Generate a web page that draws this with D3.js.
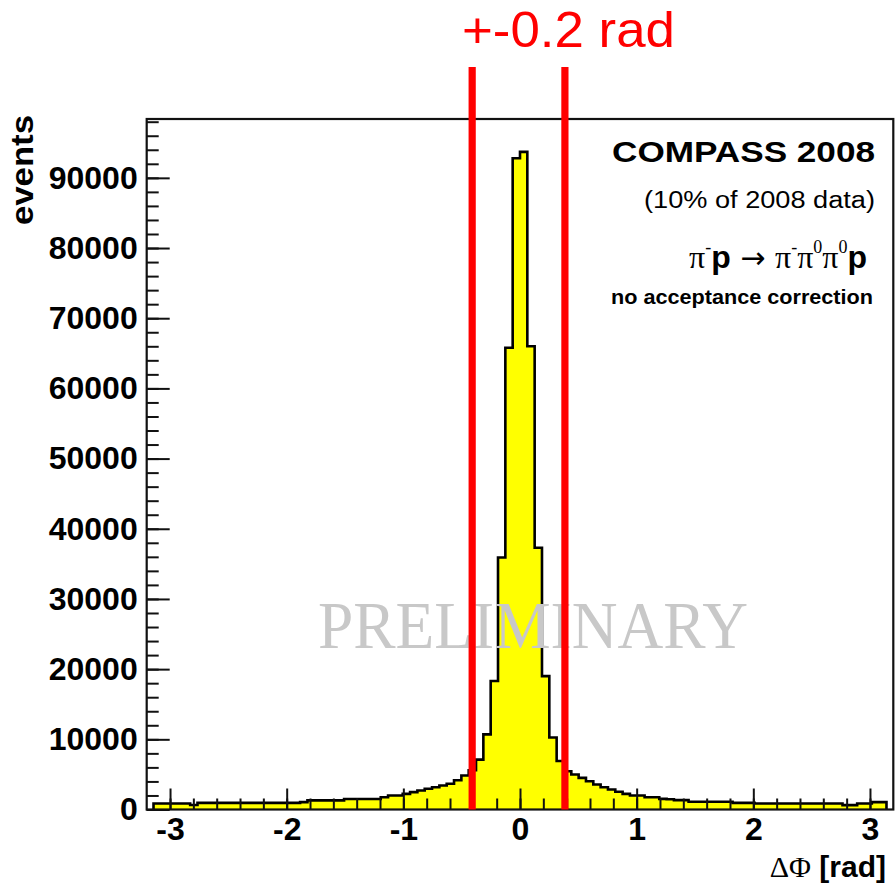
<!DOCTYPE html>
<html>
<head>
<meta charset="utf-8">
<script src="https://cdn.jsdelivr.net/npm/d3@7"></script>
<style>
  body { margin: 0; background: #fff; }
  svg { display: block; }
</style>
</head>
<body>
<svg id="chart" width="895" height="890"></svg>
<script>
// Azimuthal angle difference, 100 equal bins spanning [-pi, pi]
const binRange = [-Math.PI, Math.PI];

// events per bin, bins 0..49 (negative side)
const countsNeg = [
  850, 850, 850, 850, 850, 650, 950, 950, 950, 950,
  950, 950, 950, 950, 950, 950, 950, 950, 950, 950,
  1050, 1300, 1300, 1300, 1300, 1300, 1500, 1500, 1500, 1500,
  1500, 1750, 2000, 2000, 2230, 2470, 2700, 2950, 3180, 3420,
  3660, 4170, 4840, 5600, 7100, 10700, 18300, 35900, 65800, 92800
];
// events per bin, bins 50..99 (positive side)
const countsPos = [
  93700, 66000, 37300, 19000, 10250, 6900, 5460, 4990, 4510, 4030,
  3560, 3180, 2850, 2520, 2230, 2000, 2000, 1750, 1750, 1520,
  1450, 1330, 1330, 1100, 1100, 1100, 1100, 1100, 1100, 950,
  950, 950, 850, 850, 850, 850, 850, 850, 850, 850,
  850, 850, 850, 850, 620, 620, 850, 850, 1050, 1050
];

const xDomain = [-3.2, 3.2];
const xTickValues = [-3, -2, -1, 0, 1, 2, 3];
const yTickValues = [0, 10000, 20000, 30000, 40000, 50000, 60000, 70000, 80000, 90000];

// cut window marked on the distribution
const cutValues = [-0.41, 0.385];
const cutLabel = "+-0.2 rad";

const titleMain = "COMPASS 2008";
const titleSub = "(10% of 2008 data)";
const titleNote = "no acceptance correction";
const watermark = "PRELIMINARY";
const xTitleSymbol = "ΔΦ";
const xTitleUnit = " [rad]";
const yTitle = "events";

const counts = countsNeg.concat(countsPos);
const nBins = counts.length;
const binWidth = (binRange[1] - binRange[0]) / nBins;
const edges = d3.range(nBins + 1).map(i => binRange[0] + i * binWidth);
const yMax = 1.05 * d3.max(counts);

const svg = d3.select("#chart");
const frame = { left: 146.7, right: 893.3, top: 119, bottom: 809.5 };

const x = d3.scaleLinear().domain(xDomain).range([frame.left, frame.right]);
const y = d3.scaleLinear().domain([0, yMax]).range([frame.bottom, frame.top]);

const sans = "'Liberation Sans', Arial, Helvetica, sans-serif";
const serif = "'Liberation Serif', 'Times New Roman', serif";

// histogram as a stepped outline
const pts = [{ x: edges[0], y: 0 }]
  .concat(counts.map((c, i) => ({ x: edges[i], y: c })))
  .concat([{ x: edges[nBins], y: counts[nBins - 1] }, { x: edges[nBins], y: 0 }]);

const area = d3.area().curve(d3.curveStepAfter)
  .x(d => x(d.x)).y0(y(0)).y1(d => y(d.y));
const line = d3.line().curve(d3.curveStepAfter)
  .x(d => x(d.x)).y(d => y(d.y));

svg.append("path").datum(pts).attr("d", area).attr("fill", "#ffff00");
svg.append("path").datum(pts).attr("d", line)
  .attr("fill", "none").attr("stroke", "#000").attr("stroke-width", 2.6)
  .attr("stroke-linejoin", "miter");

// watermark
svg.append("text")
  .attr("x", 318).attr("y", 648)
  .attr("textLength", 430).attr("lengthAdjust", "spacingAndGlyphs")
  .attr("font-family", serif).attr("font-size", 68)
  .attr("fill", "#c8c8c8")
  .text(watermark);

// axes (ticks pointing into the frame)
const tickColor = "#111";
const yMinor = d3.range(0, yMax, 2000);
const yMinorAxis = d3.axisLeft(y).tickValues(yMinor).tickSize(-12).tickFormat("");
const yMajorAxis = d3.axisLeft(y).tickValues(yTickValues).tickSize(-23).tickPadding(9)
  .tickFormat(d => String(d));

const gyMinor = svg.append("g").attr("transform", `translate(${frame.left},0)`).call(yMinorAxis);
const gy = svg.append("g").attr("transform", `translate(${frame.left},0)`).call(yMajorAxis);

const xMinor = d3.range(-32, 33, 2).map(v => v / 10).filter(v => v > xDomain[0] && v < xDomain[1]);
const xMinorAxis = d3.axisBottom(x).tickValues(xMinor).tickSize(-11).tickFormat("");
const xMajorAxis = d3.axisBottom(x).tickValues(xTickValues).tickSize(-21).tickPadding(8)
  .tickFormat(d => (d < 0 ? "-" : "") + Math.abs(d));

const gxMinor = svg.append("g").attr("transform", `translate(0,${frame.bottom})`).call(xMinorAxis);
const gx = svg.append("g").attr("transform", `translate(0,${frame.bottom})`).call(xMajorAxis);

[gyMinor, gy, gxMinor, gx].forEach(g => {
  g.select(".domain").remove();
  g.selectAll(".tick line").attr("stroke", tickColor).attr("stroke-width", 2);
  g.selectAll("text")
    .attr("font-family", sans).attr("font-weight", "bold")
    .attr("font-size", 32).attr("fill", "#000");
});

// frame
svg.append("rect")
  .attr("x", frame.left).attr("y", frame.top)
  .attr("width", frame.right - frame.left).attr("height", frame.bottom - frame.top)
  .attr("fill", "none").attr("stroke", "#111").attr("stroke-width", 2.2);

// axis titles
const xt = svg.append("text")
  .attr("x", 886).attr("y", 877).attr("text-anchor", "end")
  .attr("font-family", sans).attr("font-weight", "bold").attr("font-size", 30);
xt.append("tspan").attr("font-family", serif).attr("font-weight", "normal").text(xTitleSymbol);
xt.append("tspan").text(xTitleUnit);

svg.append("text")
  .attr("transform", "translate(33,115) rotate(-90)")
  .attr("text-anchor", "end")
  .attr("font-family", sans).attr("font-weight", "bold").attr("font-size", 31)
  .attr("textLength", 110).attr("lengthAdjust", "spacingAndGlyphs")
  .text(yTitle);

// info block, top right
svg.append("text")
  .attr("x", 875).attr("y", 162).attr("text-anchor", "end")
  .attr("font-family", sans).attr("font-weight", "bold").attr("font-size", 29)
  .attr("textLength", 263).attr("lengthAdjust", "spacingAndGlyphs")
  .text(titleMain);

svg.append("text")
  .attr("x", 875).attr("y", 208).attr("text-anchor", "end")
  .attr("font-family", sans).attr("font-size", 23)
  .attr("textLength", 231).attr("lengthAdjust", "spacingAndGlyphs")
  .text(titleSub);

// reaction: pi- p -> pi- pi0 pi0 p
const rx = svg.append("text")
  .attr("x", 867).attr("y", 268).attr("text-anchor", "end")
  .attr("font-family", sans).attr("font-size", 32);
const pi = (dy) => rx.append("tspan").attr("dy", dy).attr("font-family", serif).text("π");
const sup = (s) => rx.append("tspan").attr("dy", -15).attr("font-size", 18)
  .attr("font-family", serif).text(s);
const bp = (dy) => rx.append("tspan").attr("dy", dy).attr("font-weight", "bold").text("p");
pi(0); sup("-"); bp(15);
rx.append("tspan").attr("font-family", "'DejaVu Sans', sans-serif").attr("font-size", 30).text(" → ");
pi(0); sup("-");
pi(15); sup("0");
pi(15); sup("0");
bp(15);

svg.append("text")
  .attr("x", 873).attr("y", 303.5).attr("text-anchor", "end")
  .attr("font-family", sans).attr("font-weight", "bold").attr("font-size", 21)
  .attr("textLength", 262).attr("lengthAdjust", "spacingAndGlyphs")
  .text(titleNote);

// cut window lines and label
svg.selectAll("rect.cut").data(cutValues).enter().append("rect")
  .attr("class", "cut")
  .attr("x", d => x(d) - 3.6).attr("width", 7.2)
  .attr("y", 67).attr("height", frame.bottom - 67)
  .attr("fill", "#ff0000");

svg.append("text")
  .attr("x", 568.5).attr("y", 47).attr("text-anchor", "middle")
  .attr("font-family", sans).attr("font-size", 50).attr("fill", "#ff0000")
  .attr("textLength", 213).attr("lengthAdjust", "spacingAndGlyphs")
  .text(cutLabel);
</script>
</body>
</html>
